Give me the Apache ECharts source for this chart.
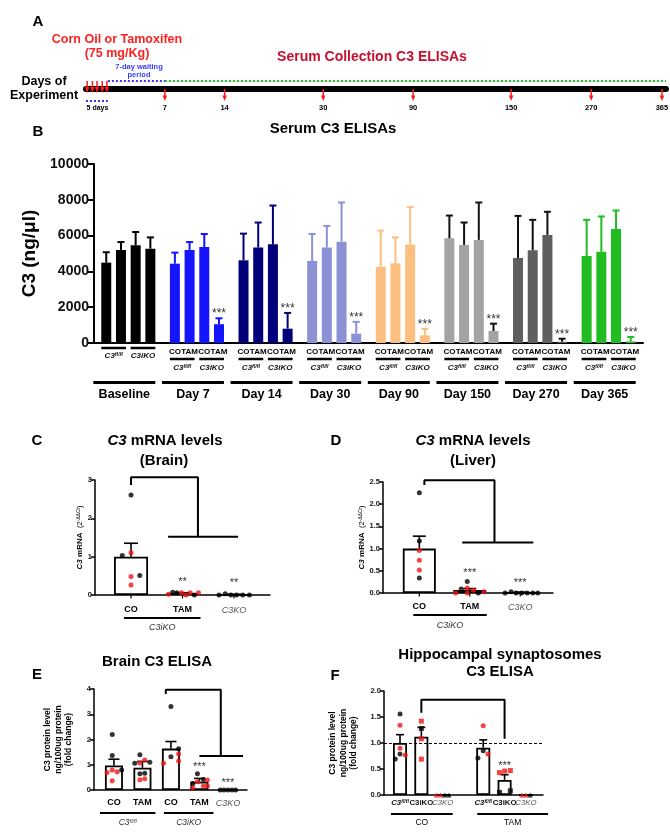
<!DOCTYPE html>
<html>
<head>
<meta charset="utf-8">
<script src="https://cdn.jsdelivr.net/npm/echarts@6/dist/echarts.min.js"></script>
<style>
html,body{margin:0;padding:0;background:#fff;}
#c{width:670px;height:839px;}
</style>
</head>
<body>
<div id="c"></div>
<script>
// ================= DATA =================
// Panel A - experiment timeline
const timelineDays = ['7','14','30','90','150','270','365'];
const timelinePos = [0.136,0.239,0.409,0.564,0.733,0.871,0.993];   // position along timeline bar (0..1)
const injectionPos = [0.002,0.011,0.019,0.028,0.036];

// Panel B - Serum C3 ELISAs (ng/µl)
const bGroups = ['Baseline','Day 7','Day 14','Day 30','Day 90','Day 150','Day 270','Day 365'];
const bTreat = ['CO','TAM','CO','TAM'];
const bFloxCO     = [4490,4430,4620,4580,4260,5850,4750,4860];
const bFloxCOTop  = [5070,5050,6110,6090,6280,7120,7100,6880];
const bFloxTAM    = [5200,5200,5330,5330,4450,5480,5180,5100];
const bFloxTAMTop = [5640,5640,6730,6540,5900,6730,6880,7070];
const bIkoCO      = [5460,5360,5510,5660,5500,5760,6040,6370];
const bIkoCOTop   = [6200,6090,7680,7850,7590,7850,7330,7400];
const bIkoTAM     = [5270,1050,800,520,430,670,70,90];
const bIkoTAMTop  = [5900,1380,1680,1180,790,1080,240,340];
const bSig = ['','***','***','***','***','***','***','***'];

// Panel C - C3 mRNA (Brain)
const cCats = ['CO','TAM','C3KO'];
const cMean = [1.0,0.045,0.01];
const cErrTop = [1.35,0.06,0.02];
const cPts = [[2.61,1.03,1.10,0.51,0.48,0.26],[0.02,0.07,0.06,0.06,0.0,0.06,0.0,0.06],[0.0,0.03,0.0,0.0,0.0,0.0]];
const cSex = ['kkrkrr','rkkrrrkr','kkkkkk'];
const cSig = ['','**','**'];

// Panel D - C3 mRNA (Liver)
const dCats = ['CO','TAM','C3KO'];
const dMean = [1.0,0.07,0.01];
const dErrTop = [1.28,0.10,0.02];
const dPts = [[2.26,1.17,0.96,0.74,0.52,0.34],[0.0,0.09,0.26,0.11,0.0,0.06,0.0,0.03],[0.0,0.03,0.0,0.0,0.0,0.0,0.0]];
const dSex = ['kkrrrk','rkkrrrkr','kkkkkkk'];
const dSig = ['','***','***'];

// Panel E - Brain C3 ELISA (fold change)
const eCats = ['CO','TAM','CO','TAM','C3KO'];
const eMean = [0.97,0.88,1.64,0.33,0.0];
const eErrTop = [1.22,1.13,1.92,0.46,0.0];
const ePts = [[2.2,1.37,0.69,0.79,0.72,0.79,0.37],[1.4,1.06,1.07,1.19,1.1,0.64,0.66,0.41,0.45],[3.31,1.32,1.06,1.63,1.43,1.15],[0.64,0.42,0.09,0.26,0.33,0.16,0.4,0.16],[0,0,0,0,0]];
const eSex = ['kkrrrkr','kkrrkkkrr','kkrkrr','kkrkrrrr','kkkkk'];
const eSig = ['','','','***','***'];

// Panel F - Hippocampal synaptosomes C3 ELISA (fold change)
const fCats = ['C3fl/fl','C3iKO','C3KO','C3fl/fl','C3iKO','C3KO'];
const fMean = [1.0,1.12,0,0.91,0.29,0];
const fErrTop = [1.16,1.30,0,1.06,0.39,0];
const fPts = [[1.56,1.34,0.9,0.79,0.77,0.69],[1.42,1.28,1.08,0.69],[0,0,0,0],[1.33,0.85,0.71,0.79],[0.43,0.46,0.47,0.05,0.08],[0,0,0]];
const fSex = ['krrkrk','rkrr','rrkk','rkkr','rrrkk','rrk'];
const fSig = ['','','','','***',''];

// ================= LAYOUT (positions / styles) =================
const FS = '"Liberation Sans", Arial, Helvetica, sans-serif';
const RED = '#f21414', BLK = '#000';
const bColors = ['#000000','#1414ff','#00007a','#8c91d6','#fdbf80','#a3a3a3','#5f5f5f','#1fbd1f'];
const bErrColors = ['#000000','#1414ff','#00007a','#8c91d6','#fdbf80','#111111','#111111','#1fbd1f'];
const B_OFF = [-22.05,-7.35,7.35,22.05];
const cPos = [0,1,2], dPos = [0,1,2], ePos = [0,1,2,3,4], fPos = [0,1,2,3.9,4.9,5.9];
const cJit = [[0,-0.17,0,0.17,0,0],[-0.27,-0.19,-0.11,-0.02,0.065,0.15,0.23,0.31],[-0.29,-0.17,-0.06,0.05,0.17,0.3]];
const dJit = [[0,0,0,0,0,0],[-0.28,-0.17,-0.05,-0.05,-0.05,0.07,0.17,0.28],[-0.3,-0.18,-0.08,0.03,0.14,0.25,0.35]];
const eJit = [[-0.06,-0.06,-0.24,-0.06,0.11,0.27,-0.06],[-0.09,-0.27,-0.09,0.08,0.26,-0.09,0.08,-0.09,0.08],[0,0,-0.26,0.27,0.27,0.27],[-0.07,0.14,-0.23,-0.23,-0.07,0.14,0.28,0.28],[-0.27,-0.14,0,0.14,0.27]];
const fJit = [[0,0,0,0,0.25,-0.22],[0,0,0,0],[-0.3,-0.1,0.1,0.3],[0,0,-0.25,0.22],[-0.24,0,0.27,-0.24,0.27],[-0.2,0,0.2]];
const fShape = ['circle','rect','triangle','circle','rect','triangle'];
// significance brackets (annotation, in data coords)
const cBracket = [[0,2.87],[0,3.07],[1.3,3.07],[1.3,1.52]], cBar = [[0.72,1.52],[2.08,1.52]];
const dBracket = [[0.1,2.43],[0.1,2.54],[1.49,2.54],[1.49,1.14]], dBar = [[0.85,1.14],[2.26,1.14]];
const eBracket = [[1.82,3.8],[1.82,3.97],[3.75,3.97],[3.75,1.35]], eBar = [[3.0,1.35],[4.53,1.35]];
const fBracket = [[1,1.58],[1,1.83],[4.9,1.83],[4.9,1.08]];

const chart = echarts.init(document.getElementById('c'), null, {width:670, height:839, renderer:'canvas'});

const grids = [
  {left:86, top:60, width:580, height:29},
  {left:94, top:164, width:549, height:179},
  {left:95, top:480, width:175, height:115},
  {left:383, top:482, width:170, height:111},
  {left:94, top:689, width:153, height:101},
  {left:384, top:691, width:159, height:104}
];

function smallY(gi, max, interval, fmt, name, gap, nameStyle) {
  return {gridIndex:gi, type:'value', min:0, max:max, interval:interval,
    axisLine:{show:true, onZero:false, lineStyle:{color:BLK, width:1.5}},
    axisTick:{show:true, length:4, lineStyle:{color:BLK, width:1.5}},
    axisLabel:{fontFamily:FS, fontSize:7.5, fontWeight:'bold', color:'#111', margin:3, formatter:fmt},
    splitLine:{show:false},
    name:name, nameLocation:'middle', nameRotate:90, nameGap:gap, nameTextStyle:nameStyle};
}
function smallX(gi, min, max) {
  return {gridIndex:gi, type:'value', min:min, max:max,
    axisLine:{show:true, onZero:false, lineStyle:{color:BLK, width:1.5}},
    axisTick:{show:false}, axisLabel:{show:false}, splitLine:{show:false}};
}
const mrnaName = {fontFamily:FS, fontSize:8, fontWeight:'bold', color:'#000',
  rich:{i:{fontFamily:FS, fontSize:8, fontWeight:'bold', fontStyle:'italic'},
        t:{fontFamily:FS, fontSize:8, fontWeight:'bold'},
        n:{fontFamily:FS, fontSize:7.5, fontWeight:'normal'},
        s:{fontFamily:FS, fontSize:5, fontWeight:'normal', verticalAlign:'top'}}};
const protName = {fontFamily:FS, fontSize:8.5, fontWeight:'bold', color:'#000', lineHeight:10.5};

const xAxes = [
  {gridIndex:0, type:'value', min:0, max:1, axisLine:{show:true, lineStyle:{color:BLK, width:6}}, axisTick:{show:false}, axisLabel:{show:false}, splitLine:{show:false}},
  {gridIndex:1, type:'category', data:bGroups, axisLine:{show:true, lineStyle:{color:BLK, width:2}}, axisTick:{show:false}, axisLabel:{show:false}},
  smallX(2,-0.7,2.7), smallX(3,-0.72,2.65), smallX(4,-0.7,4.67), smallX(5,-0.75,6.7)
];
const yAxes = [
  {gridIndex:0, type:'value', min:0, max:1, show:false},
  {gridIndex:1, type:'value', min:0, max:10000, interval:2000,
   axisLine:{show:true, onZero:false, lineStyle:{color:BLK, width:2}},
   axisTick:{show:true, length:6, lineStyle:{color:BLK, width:2}},
   axisLabel:{fontFamily:FS, fontSize:14, fontWeight:'bold', color:'#111', margin:5, formatter:v=>String(v)},
   splitLine:{show:false},
   name:'C3 (ng/μl)', nameLocation:'middle', nameRotate:90, nameGap:51,
   nameTextStyle:{fontFamily:FS, fontSize:19, fontWeight:'bold', color:'#000'}},
  smallY(2,3,1,null,'{i|C3}{t| mRNA  }{n|(2}{s|-ΔΔCt}{n|)}',11,mrnaName),
  smallY(3,2.5,0.5,v=>v.toFixed(1),'{i|C3}{t| mRNA  }{n|(2}{s|-ΔΔCt}{n|)}',17,mrnaName),
  smallY(4,4,1,null,'C3 protein level\nng/100ug protein\n(fold change)',20,protName),
  smallY(5,2,0.5,v=>v.toFixed(1),'C3 protein level\nng/100ug protein\n(fold change)',25,protName)
];

const series = [];
// ---- Panel B bars
const bVals = [bFloxCO,bFloxTAM,bIkoCO,bIkoTAM];
const bTops = [bFloxCOTop,bFloxTAMTop,bIkoCOTop,bIkoTAMTop];
bVals.forEach((arr,k)=>{
  series.push({type:'bar', xAxisIndex:1, yAxisIndex:1, barWidth:10, barGap:'47%',
    data: arr.map((v,g)=>({value:v, itemStyle:{color:bColors[g]}})), z:2});
});
const bErrData = [];
bVals.forEach((arr,k)=>arr.forEach((v,g)=>bErrData.push([g,k,v,bTops[k][g]])));
series.push({type:'custom', xAxisIndex:1, yAxisIndex:1, z:3, encode:{x:0, y:3}, data:bErrData,
  renderItem:(params, api)=>{
    const g=api.value(0), k=api.value(1), m=api.value(2), t=api.value(3);
    const p0=api.coord([g,m]), p1=api.coord([g,t]);
    const x=p0[0]+B_OFF[k]; const col=bErrColors[g];
    return {type:'group', children:[
      {type:'line', shape:{x1:x,y1:p0[1],x2:x,y2:p1[1]}, style:{stroke:col, lineWidth:2}},
      {type:'line', shape:{x1:x-3.5,y1:p1[1],x2:x+3.5,y2:p1[1]}, style:{stroke:col, lineWidth:2}}
    ]};
  }});

// ---- Panels C-F
function panel(gi, pos, mean, top, pts, sex, jit, barW, capW, shapes) {
  series.push({type:'bar', xAxisIndex:gi, yAxisIndex:gi, barWidth:barW, z:2,
    itemStyle:{color:'#fff', borderColor:BLK, borderWidth:1.8},
    data: pos.map((p,i)=>[p, mean[i]])});
  series.push({type:'custom', xAxisIndex:gi, yAxisIndex:gi, z:3, encode:{x:0,y:2},
    data: pos.map((p,i)=>[p, mean[i], top[i]]),
    renderItem:(params, api)=>{
      const x=api.value(0), m=api.value(1), t=api.value(2);
      if (t - m <= 0) return null;
      const p0=api.coord([x,m]), p1=api.coord([x,t]);
      return {type:'group', children:[
        {type:'line', shape:{x1:p0[0],y1:p0[1],x2:p1[0],y2:p1[1]}, style:{stroke:BLK, lineWidth:1.6}},
        {type:'line', shape:{x1:p1[0]-capW/2,y1:p1[1],x2:p1[0]+capW/2,y2:p1[1]}, style:{stroke:BLK, lineWidth:1.6}}
      ]};
    }});
  const data = [];
  pts.forEach((arr,i)=>arr.forEach((v,j)=>{
    data.push({value:[pos[i]+jit[i][j], v], symbol: shapes ? shapes[i] : 'circle',
      symbolSize: 5,
      itemStyle:{color: sex[i][j]==='r' ? RED : BLK}});
  }));
  series.push({type:'scatter', xAxisIndex:gi, yAxisIndex:gi, z:4, data:data});
}
panel(2, cPos, cMean, cErrTop, cPts, cSex, cJit, 34, 14);
panel(3, dPos, dMean, dErrTop, dPts, dSex, dJit, 33, 13);
panel(4, ePos, eMean, eErrTop, ePts, eSex, eJit, 18, 11);
panel(5, fPos, fMean, fErrTop, fPts, fSex, fJit, 14, 8, fShape);
// dashed reference line in F
series[series.length-3].markLine = {silent:true, symbol:'none', label:{show:false},
  lineStyle:{type:[3,2], color:BLK, width:1.2}, data:[{yAxis:1}]};

function bracket(gi, pts) {
  series.push({type:'line', xAxisIndex:gi, yAxisIndex:gi, data:pts, symbol:'none', clip:false, z:5,
    lineStyle:{color:BLK, width:2}});
}
bracket(2,cBracket); bracket(2,cBar);
bracket(3,dBracket); bracket(3,dBar);
bracket(4,eBracket); bracket(4,eBar);
bracket(5,fBracket);

chart.setOption({animation:false, backgroundColor:'#fff', grid:grids, xAxis:xAxes, yAxis:yAxes, series:series});

// ================= TEXT & ANNOTATIONS =================
const G = [];
function txt(x, y, text, o) {
  o = o || {};
  const st = {text:text, fontFamily:FS, fontSize:o.size||8, fontWeight:o.weight||'bold', fontStyle:o.style||'normal',
    fill:o.color||'#000', align:o.align||'center', verticalAlign:o.valign||'middle'};
  if (o.rich) st.rich = o.rich;
  G.push({type:'text', x:x, y:y, silent:true, z:100, style:st});
}
function ln(x1,y1,x2,y2,w,color,dash) {
  G.push({type:'line', silent:true, z:100, shape:{x1:x1,y1:y1,x2:x2,y2:y2},
    style:{stroke:color||BLK, lineWidth:w||1, lineDash:dash||null}});
}
function tri(x, yTip, w, h, color) {
  G.push({type:'polygon', silent:true, z:101, shape:{points:[[x-w/2,yTip-h],[x+w/2,yTip-h],[x,yTip]]}, style:{fill:color}});
}
function geno(label, size, weight, style, color) {
  const r = {g:{fontFamily:FS, fontSize:size, fontWeight:weight, fontStyle:style, fill:color},
             s:{fontFamily:FS, fontSize:size*0.65, fontWeight:weight, fontStyle:style, fill:color, verticalAlign:'top'}};
  let t;
  if (label==='C3fl/fl') t='{g|C3}{s|fl/fl}';
  else t='{g|'+label+'}';
  return {t:t, rich:r};
}
function px(gi, x, y){ return chart.convertToPixel({gridIndex:gi}, [x,y]); }

// ---- Panel A
txt(38, 22, 'A', {size:15});
txt(117, 40, 'Corn Oil or Tamoxifen', {size:12.5, color:'#ff2020'});
txt(117, 54, '(75 mg/Kg)', {size:12.5, color:'#ff2020'});
txt(372, 57, 'Serum Collection C3 ELISAs', {size:14, color:'#c8102e'});
txt(139, 67, '7-day waiting', {size:7.5, color:'#3a3aff'});
txt(139, 75, 'period', {size:7.5, color:'#3a3aff'});
txt(44, 82, 'Days of', {size:12.5});
txt(44, 96, 'Experiment', {size:12.5});
{
  const p0 = px(0, 0, 0), p1 = px(0, 1, 0);
  const yb = p0[1];
  const x7 = px(0, timelinePos[0], 0)[0];
  const xInjEnd = px(0, injectionPos[injectionPos.length-1], 0)[0];
  ln(x7, yb-8, p1[0], yb-8, 2, '#1fbf1f', [2,2]);
  ln(xInjEnd+1, yb-8, x7, yb-8, 2, '#3333ff', [2,2]);
  ln(p0[0], yb+12, xInjEnd+1, yb+12, 2, '#3333ff', [2,2]);
  txt((p0[0]+xInjEnd)/2+1, yb+19, '5 days', {size:7});
  injectionPos.forEach(p=>{
    const x = px(0, p, 0)[0];
    ln(x, yb-8, x, yb, 1.5, '#ff1a1a');
    tri(x, yb+4, 4.5, 6, '#ff1a1a');
  });
  timelinePos.forEach((p,i)=>{
    const x = px(0, p, 0)[0];
    ln(x, yb, x, yb+8, 1.5, '#ff1a1a');
    tri(x, yb+12, 4.5, 5.5, '#ff1a1a');
    txt(x, yb+19, timelineDays[i], {size:7.5});
  });
}

// ---- Panel B
txt(38, 132, 'B', {size:15});
txt(333, 129, 'Serum C3 ELISAs', {size:15});
bGroups.forEach((name,g)=>{
  const c = px(1, g, 0); const cx=c[0], y0=c[1];
  const gl = geno('C3fl/fl', 8, 'bold', 'italic', '#111');
  const gk = geno('C3iKO', 8, 'bold', 'italic', '#111');
  if (g===0) {
    ln(cx+B_OFF[0]-5, y0+5, cx+B_OFF[1]+5, y0+5, 2.5);
    ln(cx+B_OFF[2]-5, y0+5, cx+B_OFF[3]+5, y0+5, 2.5);
    txt(cx+(B_OFF[0]+B_OFF[1])/2, y0+13, gl.t, {rich:gl.rich, size:8});
    txt(cx+(B_OFF[2]+B_OFF[3])/2, y0+13, gk.t, {rich:gk.rich, size:8});
  } else {
    bTreat.forEach((t,k)=>txt(cx+B_OFF[k], y0+8.5, t, {size:8}));
    ln(cx+B_OFF[0]-5, y0+16, cx+B_OFF[1]+5, y0+16, 2.5);
    ln(cx+B_OFF[2]-5, y0+16, cx+B_OFF[3]+5, y0+16, 2.5);
    txt(cx+(B_OFF[0]+B_OFF[1])/2, y0+25, gl.t, {rich:gl.rich, size:8});
    txt(cx+(B_OFF[2]+B_OFF[3])/2, y0+25, gk.t, {rich:gk.rich, size:8});
  }
  ln(cx-35, y0+39.5, cx+27, y0+39.5, 3);
  txt(cx-4, y0+52, name, {size:12.5});
  if (bSig[g]) {
    const p = px(1, g, bIkoTAMTop[g]);
    txt(cx+B_OFF[3], p[1]-7+0.22*12, bSig[g], {size:12, weight:'normal', color:'#333'});
  }
});

// ---- Panels C-F: titles
const titleRich = {bi:{fontFamily:FS, fontSize:15, fontWeight:'bold', fontStyle:'italic'}, b:{fontFamily:FS, fontSize:15, fontWeight:'bold'}};
txt(37, 441, 'C', {size:15});
txt(165, 441, '{bi|C3}{b| mRNA levels}', {size:15, rich:titleRich});
txt(164, 461, '(Brain)', {size:15});
txt(336, 441, 'D', {size:15});
txt(473, 441, '{bi|C3}{b| mRNA levels}', {size:15, rich:titleRich});
txt(473, 461, '(Liver)', {size:15});
txt(37, 675, 'E', {size:15});
txt(157, 662, 'Brain C3 ELISA', {size:15});
txt(335, 676, 'F', {size:15});
txt(500, 655, 'Hippocampal synaptosomes', {size:15});
txt(500, 672, 'C3 ELISA', {size:15});

function sigLabels(gi, pos, top, pts, sig, off, size) {
  pos.forEach((p,i)=>{
    if (!sig[i]) return;
    const m = Math.max(top[i], ...pts[i]);
    const q = px(gi, p, m);
    txt(q[0], q[1]-off+0.22*size, sig[i], {size:size, weight:'normal', color:'#333'});
  });
}
sigLabels(2, cPos, cErrTop, cPts, cSig, 13, 11);
sigLabels(3, dPos, dErrTop, dPts, dSig, 11, 11);
sigLabels(4, ePos, eErrTop, ePts, eSig, 9, 11);
sigLabels(5, fPos, fErrTop, fPts, fSig, 7, 11);

function catTicks(gi, pos) {
  pos.forEach(p=>{ const q = px(gi, p, 0); ln(q[0], q[1], q[0], q[1]+3.5, 1.2); });
}
catTicks(2, cPos); catTicks(3, dPos);

function catLabel(gi, x, dy, label, o) {
  const q = px(gi, x, 0);
  const s = o.size;
  if (label==='C3KO') { txt(q[0], q[1]+dy, 'C3KO', {size:s, weight:'normal', style:'italic', color:'#555'}); return; }
  if (label==='C3fl/fl' || label==='C3iKO') {
    const g = geno(label, s, o.gw||'bold', o.gs||'italic', '#111');
    txt(q[0], q[1]+dy, g.t, {size:s, rich:g.rich}); return;
  }
  txt(q[0], q[1]+dy, label, {size:s});
}
function groupLine(gi, xa, xb, padL, padR, dyLine, dyLab, label, o) {
  const a = px(gi, xa, 0), b = px(gi, xb, 0);
  const x1 = a[0]-padL, x2 = b[0]+padR;
  ln(x1, a[1]+dyLine, x2, a[1]+dyLine, 2);
  if (label==='CO' || label==='TAM') { txt((x1+x2)/2, a[1]+dyLab, label, {size:o.size, weight:'normal'}); return; }
  const g = geno(label, o.size, 'normal', 'italic', '#333');
  txt((x1+x2)/2, a[1]+dyLab, g.t, {size:o.size, rich:g.rich});
}
// C
cCats.forEach((c,i)=>catLabel(2, cPos[i], 15, c, {size:9}));
groupLine(2, 0, 1, 7, 18, 23, 32, 'C3iKO', {size:9});
// D
dCats.forEach((c,i)=>catLabel(3, dPos[i], 14, c, {size:9}));
groupLine(3, 0, 1, 6, 17, 22, 32, 'C3iKO', {size:9});
// E
eCats.forEach((c,i)=>catLabel(4, ePos[i], 13, c, {size:9}));
groupLine(4, 0, 1, 14, 13, 23, 33, 'C3fl/fl', {size:8.5});
groupLine(4, 2, 3, 7, 14, 23, 33, 'C3iKO', {size:8.5});
// F
fCats.forEach((c,i)=>catLabel(5, fPos[i], 8, c, {size:7.8, gw:'bold', gs: c==='C3iKO' ? 'normal' : 'italic'}));
groupLine(5, 0, 2, 9, 10, 19, 28, 'CO', {size:8.5});
groupLine(5, 3.9, 5.9, 6, 22, 19, 28, 'TAM', {size:8.5});

chart.setOption({graphic:G});
</script>
</body>
</html>
